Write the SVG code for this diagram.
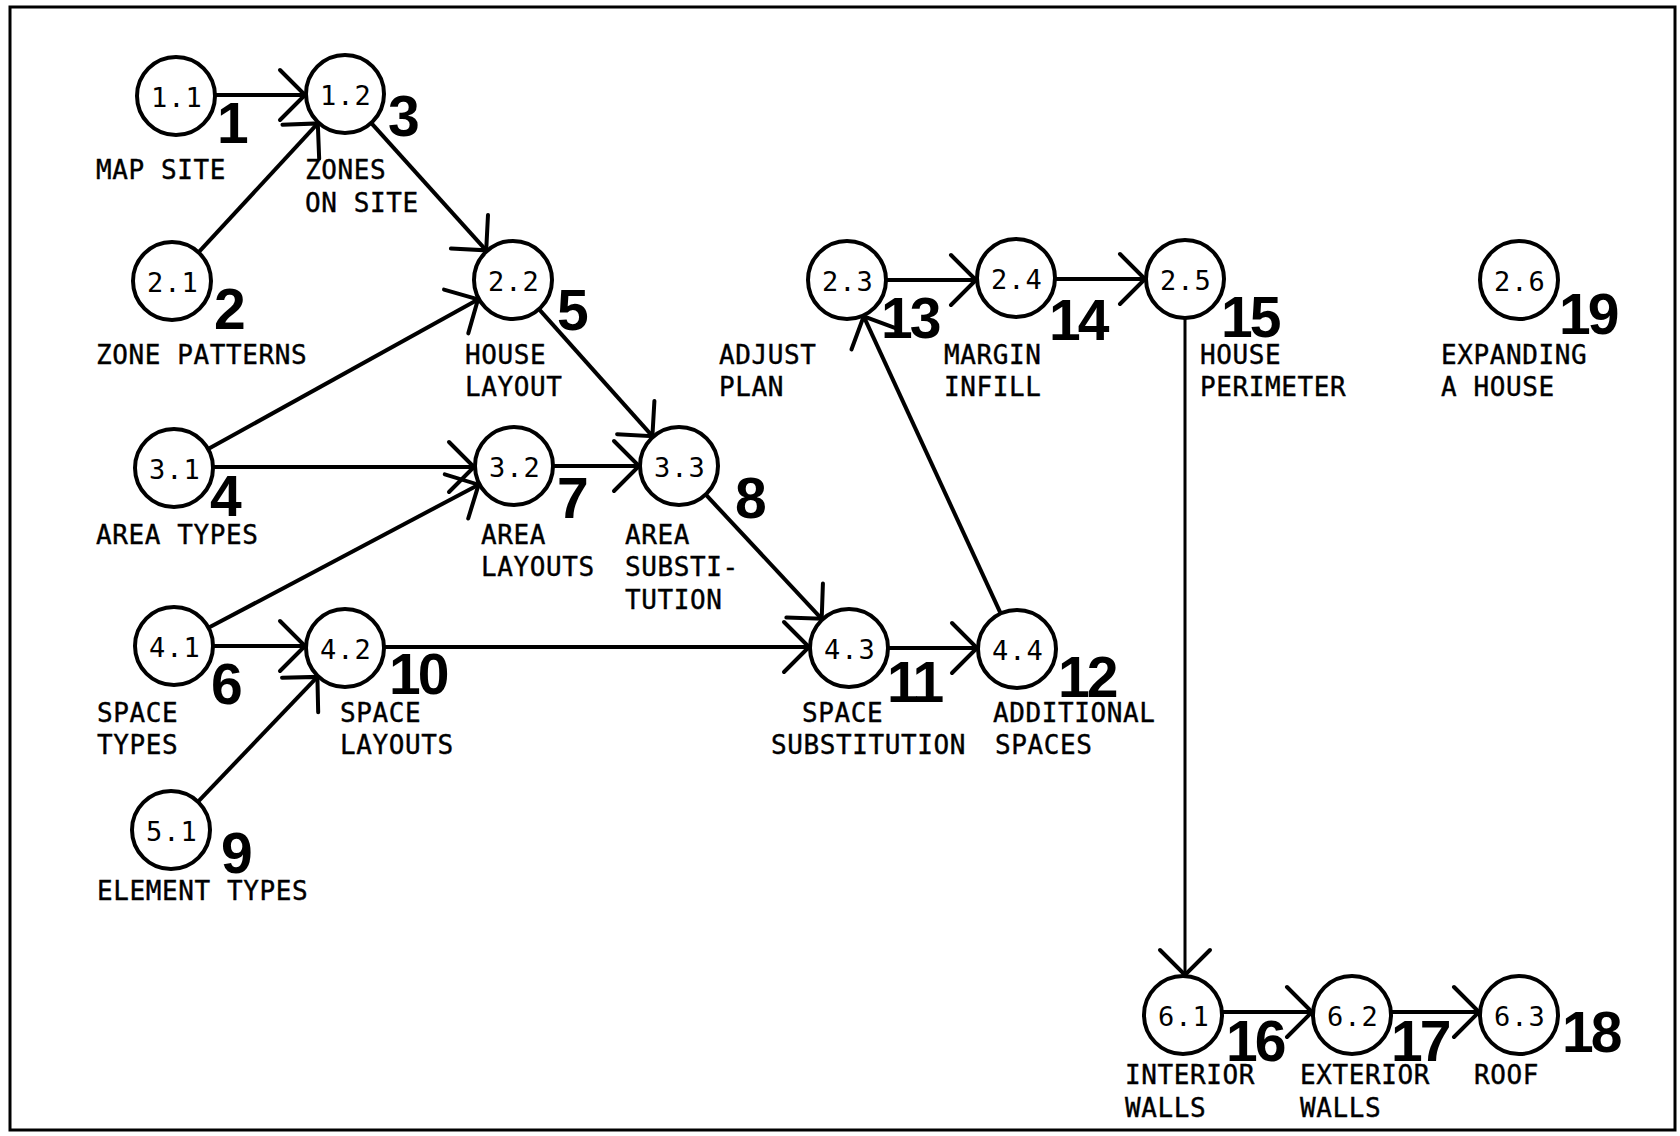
<svg xmlns="http://www.w3.org/2000/svg" width="1680" height="1136" viewBox="0 0 1680 1136">
<defs>
<style>
.bg{fill:#fff}
.frame{fill:none;stroke:#000;stroke-width:3}
.n ellipse{fill:#fff;stroke:#000;stroke-width:4}
.id{font-family:"DejaVu Sans Mono",monospace;font-size:27px;letter-spacing:1px;text-anchor:middle;fill:#000}
.lb{font-family:"DejaVu Sans Mono",monospace;font-size:26px;letter-spacing:0.6px;fill:#000;stroke:#000;stroke-width:0.4}
.num{font-family:"Liberation Sans",Arial,sans-serif;font-weight:bold;font-size:57px;letter-spacing:-3px;fill:#000}
.c line{stroke:#000;stroke-width:4;fill:none;marker-end:url(#ah)}
.c line.thin{stroke-width:3}
</style>
<marker id="ah" markerUnits="userSpaceOnUse" markerWidth="60" markerHeight="60" viewBox="-30 -30 60 60" refX="0" refY="0" orient="auto" overflow="visible">
<path d="M-25,-25 L0,0 L-25,25" fill="none" stroke="#000" stroke-width="4" stroke-linecap="round" stroke-linejoin="miter"/>
</marker>
</defs>
<rect class="bg" x="0" y="0" width="1680" height="1136"/>
<rect class="frame" x="10" y="7" width="1665" height="1123"/>

<g id="connectors" class="c">
<line x1="216" y1="95" x2="305" y2="95"/>
<line x1="199.2" y1="251.6" x2="317.8" y2="123.4"/>
<line x1="371.8" y1="123.7" x2="486.2" y2="250.3"/>
<line x1="209" y1="448.6" x2="478" y2="299.4"/>
<line x1="214" y1="467" x2="474" y2="467"/>
<line x1="209.4" y1="627.3" x2="478.6" y2="484.7"/>
<line x1="214" y1="646" x2="305" y2="646"/>
<line x1="198.6" y1="801.1" x2="317.4" y2="676.9"/>
<line x1="539.6" y1="309.8" x2="652.4" y2="436.2"/>
<line x1="554" y1="466" x2="639" y2="466"/>
<line x1="706.3" y1="495.2" x2="821.7" y2="618.8"/>
<line x1="385" y1="647" x2="809" y2="647"/>
<line x1="889" y1="648" x2="977" y2="648"/>
<line x1="1000.3" y1="612.7" x2="863.7" y2="316.3"/>
<line x1="887" y1="280" x2="976" y2="280"/>
<line x1="1056" y1="279" x2="1145" y2="279"/>
<line class="thin" x1="1185" y1="319" x2="1185" y2="975"/>
<line x1="1223" y1="1012" x2="1312" y2="1012"/>
<line x1="1392" y1="1012" x2="1479" y2="1012"/>
</g>

<g id="n1_1" class="n"><ellipse cx="176" cy="96" rx="39" ry="39"/><text class="id" x="177" y="107">1.1</text><text class="num" x="217" y="143">1</text><text class="lb" x="96" y="179">MAP SITE</text></g>
<g id="n1_2" class="n"><ellipse cx="345" cy="94" rx="39" ry="39"/><text class="id" x="346" y="105">1.2</text><text class="num" x="388" y="136">3</text><text class="lb" x="305" y="179">ZONES</text><text class="lb" x="305" y="212">ON SITE</text></g>
<g id="n2_1" class="n"><ellipse cx="172" cy="281" rx="39" ry="39"/><text class="id" x="173" y="292">2.1</text><text class="num" x="214" y="329">2</text><text class="lb" x="96" y="364">ZONE PATTERNS</text></g>
<g id="n2_2" class="n"><ellipse cx="513" cy="280" rx="39" ry="39"/><text class="id" x="514" y="291">2.2</text><text class="num" x="557" y="330">5</text><text class="lb" x="465" y="364">HOUSE</text><text class="lb" x="465" y="396">LAYOUT</text></g>
<g id="n3_1" class="n"><ellipse cx="174" cy="468" rx="39" ry="39"/><text class="id" x="175" y="479">3.1</text><text class="num" x="210" y="516">4</text><text class="lb" x="96" y="544">AREA TYPES</text></g>
<g id="n3_2" class="n"><ellipse cx="514" cy="466" rx="39" ry="39"/><text class="id" x="515" y="477">3.2</text><text class="num" x="557" y="518">7</text><text class="lb" x="481" y="544">AREA</text><text class="lb" x="481" y="576">LAYOUTS</text></g>
<g id="n3_3" class="n"><ellipse cx="679" cy="466" rx="39" ry="39"/><text class="id" x="680" y="477">3.3</text><text class="num" x="735" y="518">8</text><text class="lb" x="625" y="544">AREA</text><text class="lb" x="625" y="576">SUBSTI-</text><text class="lb" x="625" y="609">TUTION</text></g>
<g id="n4_1" class="n"><ellipse cx="174" cy="646" rx="39" ry="39"/><text class="id" x="175" y="657">4.1</text><text class="num" x="211" y="704">6</text><text class="lb" x="97" y="722">SPACE</text><text class="lb" x="97" y="754">TYPES</text></g>
<g id="n4_2" class="n"><ellipse cx="345" cy="648" rx="39" ry="39"/><text class="id" x="346" y="659">4.2</text><text class="num" x="389" y="694">10</text><text class="lb" x="340" y="722">SPACE</text><text class="lb" x="340" y="754">LAYOUTS</text></g>
<g id="n5_1" class="n"><ellipse cx="171" cy="830" rx="39" ry="39"/><text class="id" x="172" y="841">5.1</text><text class="num" x="221" y="873">9</text><text class="lb" x="97" y="900">ELEMENT TYPES</text></g>
<g id="n2_3" class="n"><ellipse cx="847" cy="280" rx="39" ry="39"/><text class="id" x="848" y="291">2.3</text><text class="num" x="881" y="338">13</text><text class="lb" x="719" y="364">ADJUST</text><text class="lb" x="719" y="396">PLAN</text></g>
<g id="n2_4" class="n"><ellipse cx="1016" cy="278" rx="39" ry="39"/><text class="id" x="1017" y="289">2.4</text><text class="num" x="1049" y="340">14</text><text class="lb" x="944" y="364">MARGIN</text><text class="lb" x="944" y="396">INFILL</text></g>
<g id="n2_5" class="n"><ellipse cx="1185" cy="279" rx="39" ry="39"/><text class="id" x="1186" y="290">2.5</text><text class="num" x="1221" y="337">15</text><text class="lb" x="1200" y="364">HOUSE</text><text class="lb" x="1200" y="396">PERIMETER</text></g>
<g id="n2_6" class="n"><ellipse cx="1519" cy="280" rx="39" ry="39"/><text class="id" x="1520" y="291">2.6</text><text class="num" x="1559" y="334">19</text><text class="lb" x="1441" y="364">EXPANDING</text><text class="lb" x="1441" y="396">A HOUSE</text></g>
<g id="n4_3" class="n"><ellipse cx="849" cy="648" rx="39" ry="39"/><text class="id" x="850" y="659">4.3</text><text class="num" x="887" y="702">11</text><text class="lb" x="802" y="722">SPACE</text><text class="lb" x="771" y="754">SUBSTITUTION</text></g>
<g id="n4_4" class="n"><ellipse cx="1017" cy="649" rx="39" ry="39"/><text class="id" x="1018" y="660">4.4</text><text class="num" x="1058" y="697">12</text><text class="lb" x="993" y="722">ADDITIONAL</text><text class="lb" x="995" y="754">SPACES</text></g>
<g id="n6_1" class="n"><ellipse cx="1183" cy="1015" rx="39" ry="39"/><text class="id" x="1184" y="1026">6.1</text><text class="num" x="1226" y="1061">16</text><text class="lb" x="1125" y="1084">INTERIOR</text><text class="lb" x="1125" y="1117">WALLS</text></g>
<g id="n6_2" class="n"><ellipse cx="1352" cy="1015" rx="39" ry="39"/><text class="id" x="1353" y="1026">6.2</text><text class="num" x="1391" y="1061">17</text><text class="lb" x="1300" y="1084">EXTERIOR</text><text class="lb" x="1300" y="1117">WALLS</text></g>
<g id="n6_3" class="n"><ellipse cx="1519" cy="1015" rx="39" ry="39"/><text class="id" x="1520" y="1026">6.3</text><text class="num" x="1562" y="1052">18</text><text class="lb" x="1474" y="1084">ROOF</text></g>
</svg>
